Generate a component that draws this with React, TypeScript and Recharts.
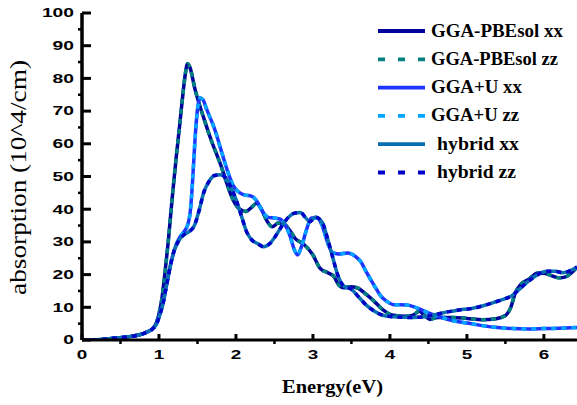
import React from 'react';
import { LineChart, Line, XAxis, YAxis } from 'recharts';

// absorption spectra (energy in eV, absorption in 10^4/cm)
const pbesolEnergy = [
  0, 0.2, 0.4, 0.6, 0.75, 0.85, 0.92, 0.97, 1.0, 1.04, 1.08, 1.12, 1.17, 1.22, 1.27, 1.31, 1.34, 1.37,
  1.4, 1.47, 1.58, 1.68, 1.81, 1.88, 1.96, 2.05, 2.13, 2.2, 2.27, 2.33, 2.4, 2.47, 2.55, 2.62, 2.7,
  2.77, 2.87, 3.0, 3.09, 3.2, 3.27, 3.33, 3.4, 3.48, 3.58, 3.68, 3.78, 3.91, 4.04, 4.2, 4.3, 4.38,
  4.45, 4.52, 4.62, 4.8, 5.0, 5.2, 5.38, 5.5, 5.57, 5.63, 5.7, 5.8, 5.92, 6.02, 6.12, 6.2, 6.28, 6.36, 6.43,
];
const pbesolAbs = [
  0, 0.1, 0.5, 1.0, 1.6, 2.5, 3.5, 5.5, 8, 13, 21, 30, 43, 55, 66, 75, 81, 84.5,
  83.5, 76.5, 68, 61, 53, 48, 43, 40, 39.3, 40.5, 41.8, 40, 36.5, 34.6, 35.8, 35.5, 33.5,
  31, 29.5, 26, 22, 20.5, 19.5, 17, 16, 16.3, 15.9, 14.2, 12.2, 9.2, 7.6, 7.3, 7.6, 8.8,
  7.5, 6.3, 6.9, 6.9, 6.6, 6.2, 6.5, 7.5, 10, 14.5, 17, 18.5, 20.5, 20.3, 19.5, 19, 19.3, 20.6, 22.3,
];

const ggauEnergy = [
  0, 0.2, 0.4, 0.6, 0.75, 0.85, 0.92, 0.97, 1.0, 1.05, 1.1, 1.15, 1.2, 1.26, 1.32, 1.37, 1.41, 1.44,
  1.47, 1.5, 1.53, 1.57, 1.62, 1.73, 1.82, 1.9, 1.97, 2.05, 2.12, 2.2, 2.27, 2.34, 2.42, 2.5, 2.57,
  2.63, 2.7, 2.76, 2.8, 2.85, 2.92, 2.98, 3.05, 3.12, 3.18, 3.25, 3.33, 3.45, 3.55, 3.62, 3.7, 3.8,
  3.88, 3.96, 4.05, 4.22, 4.35, 4.5, 4.62, 4.8, 5.0, 5.2, 5.4, 5.6, 5.8, 6.0, 6.2, 6.43,
];
const ggauAbs = [
  0, 0.1, 0.5, 1.0, 1.6, 2.5, 3.5, 5, 7, 11, 17, 23, 27.5, 31, 33, 35, 40, 50,
  62, 70.5, 74, 73.5, 70.5, 64, 57, 51, 47, 45, 44.3, 44, 42.5, 39.5, 37.5, 37.3, 37,
  35.5, 32, 27.5, 26, 28.5, 34, 37.3, 37.3, 35, 30.5, 26.8, 26.3, 26.6, 25.6, 24, 20.5, 16.5,
  13.5, 11.8, 10.8, 10.7, 9.8, 8.3, 7.3, 6.0, 5.2, 4.4, 3.8, 3.5, 3.4, 3.5, 3.6, 3.8,
];

const hybridEnergy = [
  0, 0.2, 0.4, 0.6, 0.75, 0.85, 0.92, 0.97, 1.0, 1.05, 1.1, 1.15, 1.2, 1.26, 1.33, 1.4, 1.46, 1.52,
  1.58, 1.65, 1.72, 1.8, 1.87, 1.94, 2.0, 2.07, 2.14, 2.21, 2.28, 2.36, 2.44, 2.52, 2.6, 2.68, 2.76,
  2.84, 2.9, 2.96, 3.03, 3.12, 3.19, 3.26, 3.32, 3.4, 3.5, 3.6, 3.7, 3.8, 3.95, 4.1, 4.3, 4.45,
  4.6, 4.75, 4.9, 5.05, 5.2, 5.35, 5.48, 5.58, 5.68, 5.8, 5.92, 6.04, 6.15, 6.24, 6.32, 6.43,
];
const hybridAbs = [
  0, 0.1, 0.5, 1.0, 1.6, 2.5, 3.5, 5, 7, 11, 17, 23, 27.5, 30.5, 32.3, 33.3, 35, 39.5,
  45, 48.5, 50.3, 50.5, 49.5, 46.5, 43, 38, 33, 30.5, 29.5, 28.5, 29.5, 32, 35, 37.5, 38.8,
  39, 37.5, 36.2, 37.6, 36, 31, 25, 20, 16.5, 15.5, 13, 10.5, 8.8, 7.3, 7, 6.9, 7.1,
  7.8, 8.6, 9.2, 9.6, 10.4, 11.5, 12.5, 13.5, 15.5, 18, 20, 21, 21, 20.6, 21, 22.3,
];

const xTicks = [0, 0.5, 1, 1.5, 2, 2.5, 3, 3.5, 4, 4.5, 5, 5.5, 6];
const yTicks = [0, 5, 10, 15, 20, 25, 30, 35, 40, 45, 50, 55, 60, 65, 70, 75, 80, 85, 90, 95, 100];
const rightTicks = [0, 10, 20, 30, 40, 50, 60, 70, 80, 90, 100];

const toPoints = (es: number[], vs: number[]) => es.map((e, i) => ({ e, v: vs[i] }));

const pbesol = toPoints(pbesolEnergy, pbesolAbs);
const ggau = toPoints(ggauEnergy, ggauAbs);
const hybrid = toPoints(hybridEnergy, hybridAbs);

const series = [
  { name: 'GGA-PBEsol xx', data: pbesol, color: '#00009c', dashed: false, tw: 132 },
  { name: 'GGA-PBEsol zz', data: pbesol, color: '#00807f', dashed: true, tw: 127 },
  { name: 'GGA+U xx', data: ggau, color: '#1f35ff', dashed: false, tw: 91 },
  { name: 'GGA+U zz', data: ggau, color: '#00a6ff', dashed: true, tw: 88 },
  { name: 'hybrid xx', data: hybrid, color: '#0870b0', dashed: false, tw: 82 },
  { name: 'hybrid zz', data: hybrid, color: '#0000c8', dashed: true, tw: 79 },
];

const tickFont = { fontFamily: '"Liberation Sans", Arial, sans-serif', fontWeight: 700, fontSize: 12 };

const XTick = (props: any) => {
  const { x, y, payload } = props;
  const v = payload.value;
  if (!Number.isInteger(v)) {
    return <line x1={x} x2={x} y1={y} y2={y + 4} stroke="#000" strokeWidth={2.5} />;
  }
  const s = String(v);
  return (
    <g>
      <line x1={x} x2={x} y1={y} y2={y - 6} stroke="#000" strokeWidth={3} />
      <text x={x} y={y + 18.5} textAnchor="middle" textLength={10.5 * s.length} lengthAdjust="spacingAndGlyphs" fill="#000" {...tickFont}>
        {s}
      </text>
    </g>
  );
};

const YTick = (props: any) => {
  const { x, y, payload } = props;
  const v = payload.value;
  if (v % 10 !== 0) {
    return <line x1={x} x2={x - 4} y1={y} y2={y} stroke="#000" strokeWidth={2.5} />;
  }
  const s = String(v);
  return (
    <g>
      <line x1={x} x2={x + 9} y1={y} y2={y} stroke="#000" strokeWidth={3} />
      <text x={74} y={y + 4.3} textAnchor="end" textLength={10.7 * s.length} lengthAdjust="spacingAndGlyphs" fill="#000" {...tickFont}>
        {s}
      </text>
    </g>
  );
};

const RightTick = (props: any) => {
  const { x, y } = props;
  return <line x1={x} x2={x - 4} y1={y} y2={y} stroke="#000" strokeWidth={3} />;
};

const legendTop = 31;
const legendStep = 28.3;

export default function App() {
  return (
    <div style={{ position: 'absolute', left: 0, top: 0, width: 577, height: 405, background: '#fff' }}>
      <LineChart width={577} height={405} margin={{ top: 13, right: 0, bottom: 0, left: 0 }}>
        <XAxis
          dataKey="e"
          type="number"
          domain={[0, 6.43]}
          allowDataOverflow
          ticks={xTicks}
          interval={0}
          height={65}
          tickSize={0}
          tickMargin={0}
          tick={(p: any) => <XTick {...p} />}
          axisLine={{ stroke: '#000', strokeWidth: 3 }}
          tickLine={false}
        />
        <YAxis
          type="number"
          domain={[0, 100]}
          allowDataOverflow
          ticks={yTicks}
          interval={0}
          width={82}
          tickSize={0}
          tickMargin={0}
          tick={(p: any) => <YTick {...p} />}
          axisLine={{ stroke: '#000', strokeWidth: 3.5 }}
          tickLine={false}
        />
        <YAxis
          yAxisId="r"
          orientation="right"
          type="number"
          domain={[0, 100]}
          ticks={rightTicks}
          interval={0}
          width={0}
          tickSize={0}
          tickMargin={0}
          tick={(p: any) => <RightTick {...p} />}
          axisLine={false}
          tickLine={false}
        />
        {series.map((s) => (
          <Line
            key={s.name}
            data={s.data}
            dataKey="v"
            name={s.name}
            type="monotone"
            stroke={s.color}
            strokeWidth={3.5}
            strokeDasharray={s.dashed ? '5 5' : undefined}
            dot={false}
            activeDot={false}
            isAnimationActive={false}
          />
        ))}
      </LineChart>
      <svg width={577} height={405} style={{ position: 'absolute', left: 0, top: 0, pointerEvents: 'none' }}>
        {series.map((s, i) => {
          const cy = legendTop + i * legendStep;
          const indent = s.name.startsWith('hybrid') ? 437 : 431;
          return (
            <g key={s.name}>
              <line x1={378} x2={425} y1={cy} y2={cy} stroke={s.color} strokeWidth={3.8} strokeDasharray={s.dashed ? '7 13' : undefined} />
              <text
                x={indent}
                y={cy + 5.5}
                textLength={s.tw}
                lengthAdjust="spacingAndGlyphs"
                fontFamily='"Liberation Serif", "Times New Roman", serif'
                fontWeight={700}
                fontSize={18}
                fill="#000"
              >
                {s.name}
              </text>
            </g>
          );
        })}
        <text
          x={332.5}
          y={392.5}
          textAnchor="middle"
          textLength={101}
          lengthAdjust="spacingAndGlyphs"
          fontFamily='"Liberation Serif", "Times New Roman", serif'
          fontWeight={700}
          fontSize={19}
          fill="#000"
        >
          Energy(eV)
        </text>
        <text
          x={26.4}
          y={177.5}
          transform="rotate(-90 26.4 177.5)"
          textAnchor="middle"
          textLength={235}
          lengthAdjust="spacingAndGlyphs"
          fontFamily='"Liberation Serif", "Times New Roman", serif'
          fontSize={23}
          fill="#000"
        >
          absorption (10^4/cm)
        </text>
      </svg>
    </div>
  );
}
